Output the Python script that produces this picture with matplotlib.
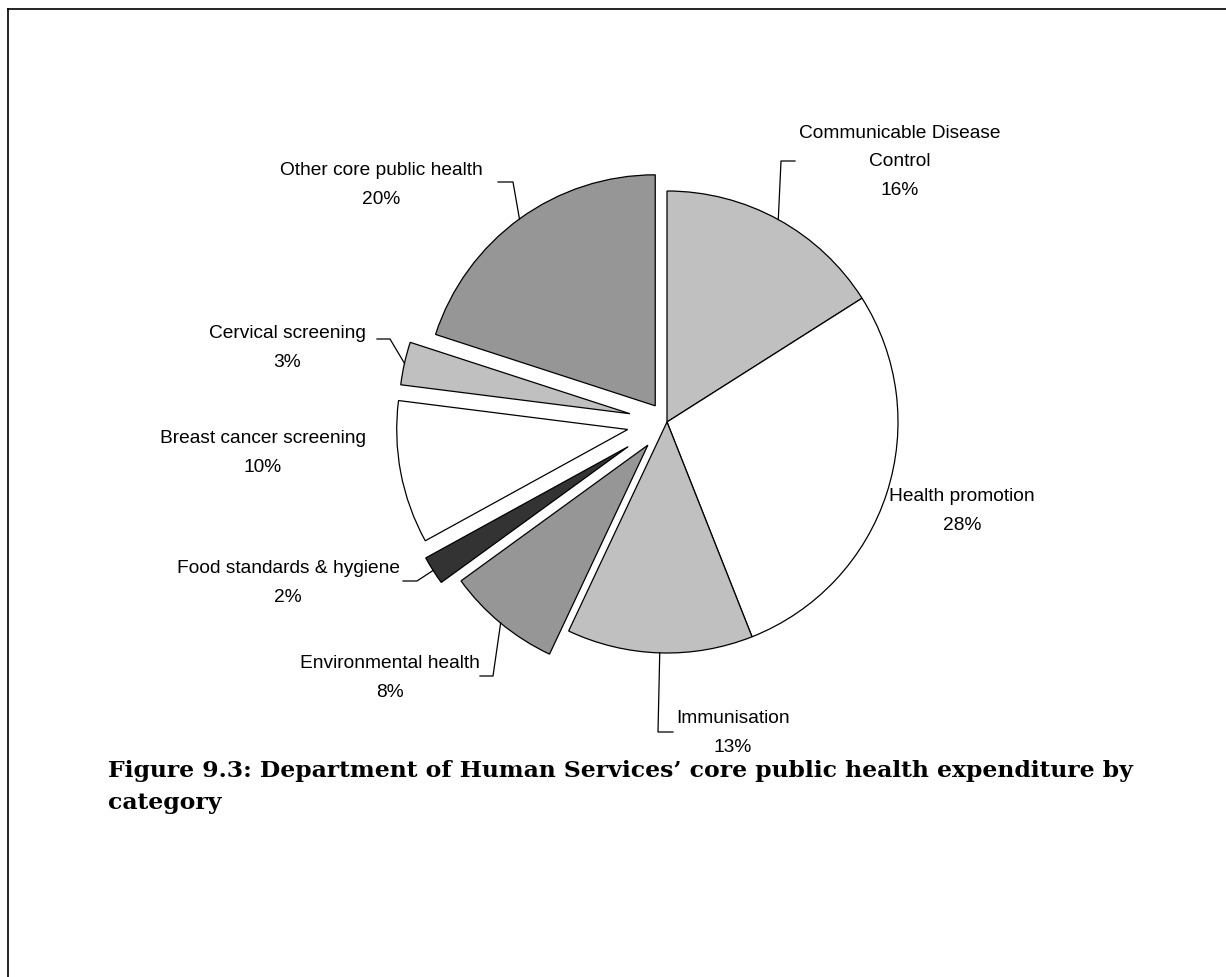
import numpy as np
import matplotlib
matplotlib.use("Agg")
from matplotlib import pyplot as plt

# data
categories = ['Communicable Disease\nControl', 'Health promotion', 'Immunisation',
              'Environmental health', 'Food standards & hygiene',
              'Breast cancer screening', 'Cervical screening',
              'Other core public health']
shares = [16, 28, 13, 8, 2, 10, 3, 20]
colors = ['#c0c0c0', '#ffffff', '#c0c0c0', '#969696', '#333333',
          '#ffffff', '#c0c0c0', '#969696']
explode = [0, 0, 0, 30, 46, 40, 38, 20]   # offsets in pixels

W, H = 1226, 978
cx, cy, R = 667, H - 423, 231

# label centres and leader elbows (image pixels, y down); None = no leader
label_pos = [(900, 162), (962, 511), (733, 733), (390, 678),
             (288, 583), (263, 453), (287, 348), (381, 185)]
leaders = [[(795, 162), (781, 162)], None, [(673, 733), (658, 733)],
           [(480, 677), (493, 677)], [(403, 582), (417, 582)], None,
           [(377, 340), (390, 340)], [(498, 183), (513, 183)]]

plt.rcParams['font.family'] = ['Liberation Sans', 'DejaVu Sans']

fig = plt.figure(figsize=(W / 100, H / 100), dpi=100)
ax = fig.add_axes([0, 0, 1, 1])

wedges, _ = ax.pie(shares, colors=colors, explode=explode, startangle=90,
                   counterclock=False, center=(cx, cy), radius=R,
                   wedgeprops=dict(edgecolor='black', linewidth=0.9),
                   frame=True)
ax.set_xlim(0, W)
ax.set_ylim(0, H)
ax.axis('off')

for w, name, val, pos, ld in zip(wedges, categories, shares, label_pos, leaders):
    mid = np.deg2rad((w.theta1 + w.theta2) / 2)
    ox, oy = w.center
    ax.text(pos[0], H - pos[1], f'{name}\n{val}%', ha='center', va='center',
            fontsize=13.8, linespacing=1.9)
    if ld is not None:
        ex = ox + R * np.cos(mid)
        ey = oy + R * np.sin(mid)
        xs = [p[0] for p in ld] + [ex]
        ys = [H - p[1] for p in ld] + [ey]
        ax.plot(xs, ys, color='black', lw=0.9)

# frame lines (left and top)
ax.plot([8, 8], [0, H - 10], color='black', lw=1.2)
ax.plot([8, W], [H - 10, H - 10], color='black', lw=1.2)

ax.text(108, H - 760, 'Figure 9.3: Department of Human Services\u2019 core public health expenditure by\ncategory',
        ha='left', va='top', fontsize=16.9, fontweight='bold',
        family=['DejaVu Serif'], linespacing=1.6)

fig.savefig('out.png', dpi=100)
